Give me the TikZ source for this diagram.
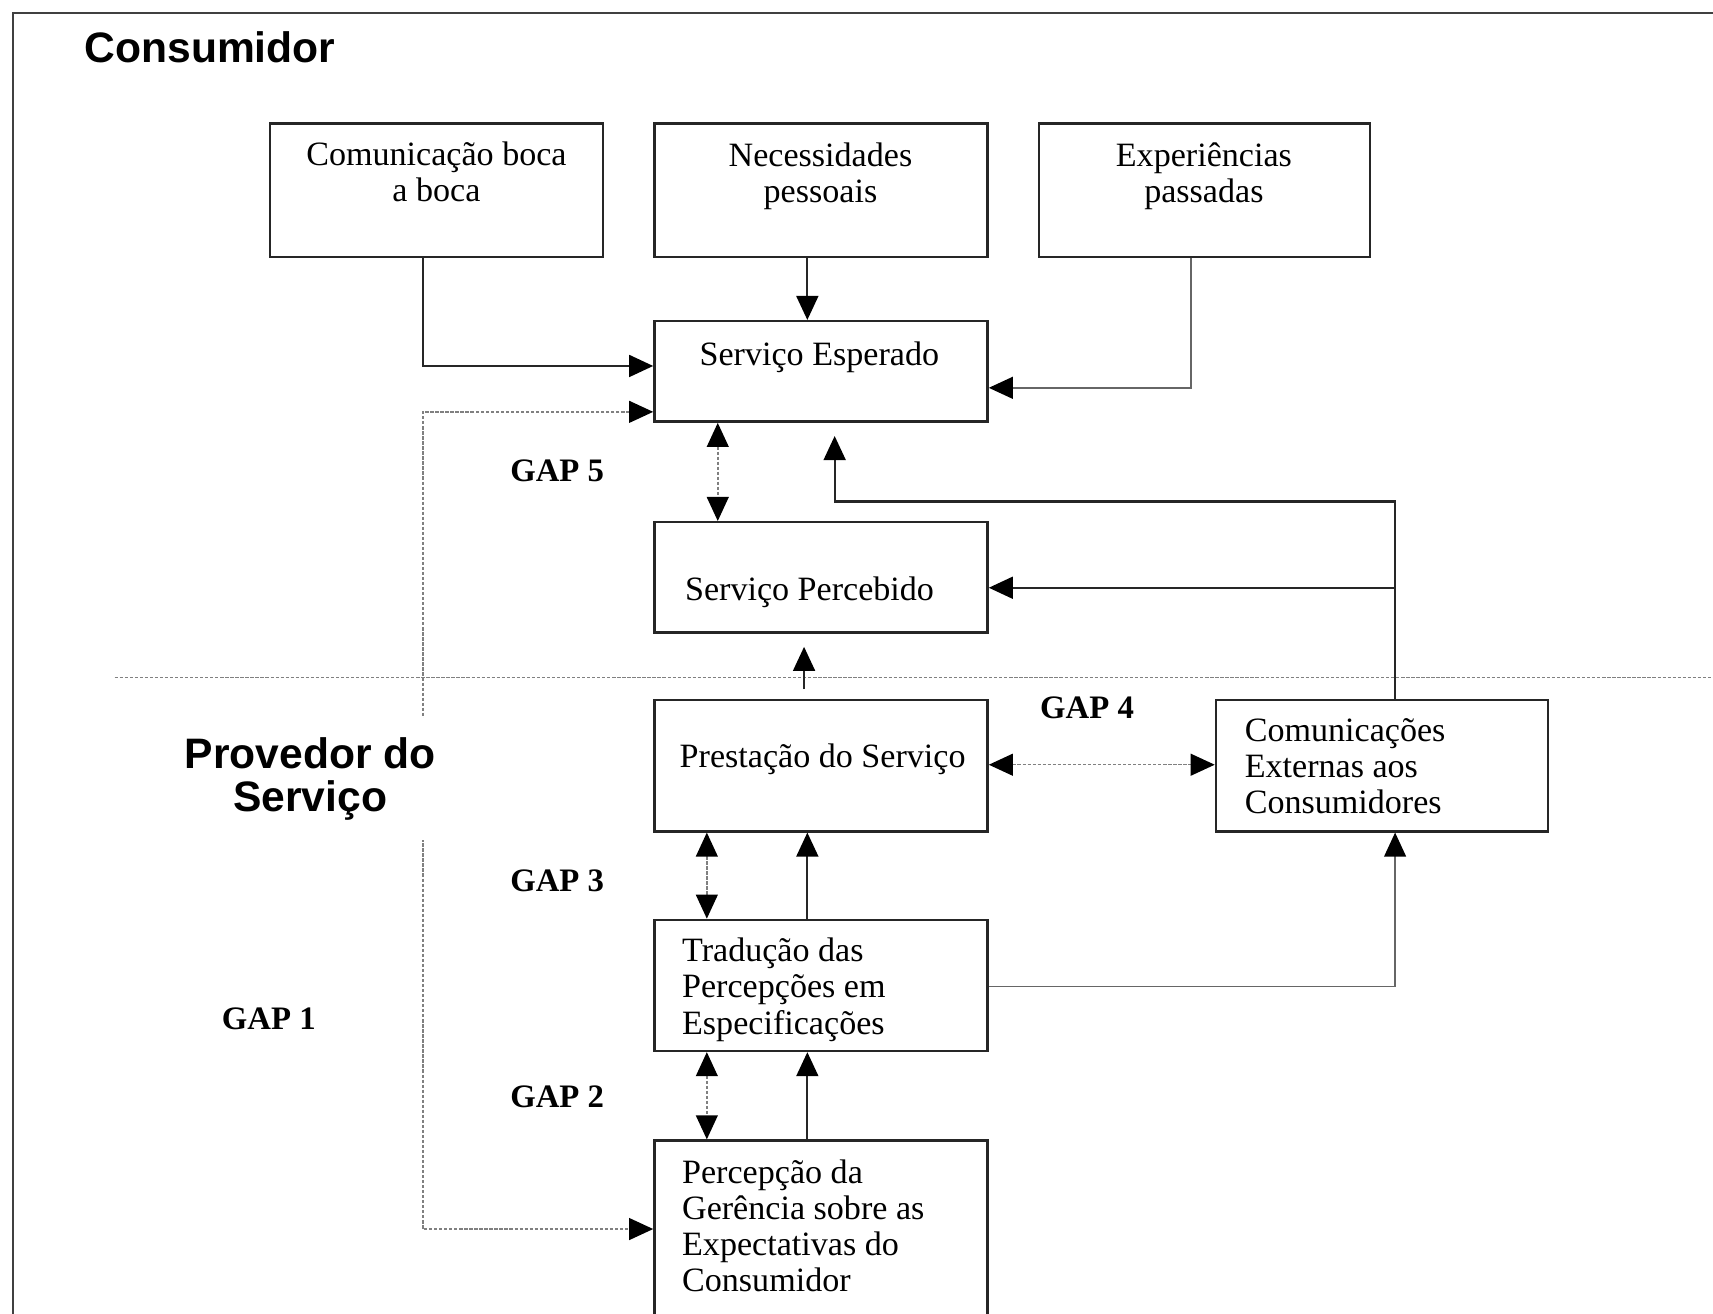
\documentclass[tikz,border=0pt]{standalone}
\usepackage{fontspec}
\setmainfont{Liberation Serif}
\newfontfamily\headfont{Liberation Sans}
\usetikzlibrary{arrows.meta,calc,fit}
\begin{document}
\begin{tikzpicture}[x=0.5pt,y=-0.5pt,
  box/.style={draw=black!85, line width=1.1pt, inner sep=0pt},
  boxtext/.style={font=\fontsize{15.6pt}{16.5pt}\selectfont, inner sep=0pt, text=black},
  gaplabel/.style={font=\fontsize{15pt}{17pt}\selectfont\bfseries, inner sep=0pt},
  head/.style={font=\headfont\bfseries\fontsize{19.5pt}{19.5pt}\selectfont, inner sep=0pt},
  arr/.style={line width=1pt, draw=black!85, -{Triangle[length=11pt,width=10pt,color=black]}},
  thinarr/.style={line width=0.7pt, draw=black!60, -{Triangle[length=11pt,width=10pt,color=black]}},
  dotline/.style={line width=0.7pt, draw=black!50, dash pattern=on 1.5pt off 0.8pt},
  dblarr/.style={dotline, {Triangle[length=11pt,width=10pt,color=black]}-{Triangle[length=11pt,width=10pt,color=black]}},
  frameline/.style={draw=black!75, line width=1.1pt}
]
\useasboundingbox (0,0) rectangle (1568,1202);
\clip (0,0) rectangle (1568,1202);
\fill[white] (0,0) rectangle (1568,1202);

% outer frame
\draw[frameline] (12,12) rectangle (1640,1280);

% separator
\draw[dotline] (105,620) -- (1600,620);

% boxes
\node[box, fit={(247,113) (552,235)}] (A) {};
\node[box, fit={(599,113) (904,235)}] (B) {};
\node[box, fit={(951,113) (1254,235)}] (C) {};
\node[box, fit={(599,294) (904,386)}] (SE) {};
\node[box, fit={(599,478) (904,579)}] (SP) {};
\node[box, fit={(599,641) (904,761)}] (PS) {};
\node[box, fit={(1113,641) (1417,761)}] (CE) {};
\node[box, fit={(599,842) (904,962)}] (T) {};
\node[box, fit={(599,1044) (904,1230)}] (P) {};

% box texts
\node[boxtext, align=center] at (399.5,157) {Comunica\c{c}\~ao boca\\a boca};
\node[boxtext, align=center] at (751,161) {Necessidades\\pessoais};
\node[boxtext, align=center] at (1102,161) {Experi\^encias\\passadas};
\node[boxtext] at (750,327) {Servi\c{c}o Esperado};
\node[boxtext] at (741,542) {Servi\c{c}o Percebido};
\node[boxtext] at (753,695) {Presta\c{c}\~ao do Servi\c{c}o};
\node[boxtext, align=left, anchor=west] at (1139,701) {Comunica\c{c}\~oes\\Externas aos\\Consumidores};
\node[boxtext, align=left, anchor=west] at (624,906) {Tradu\c{c}\~ao das\\Percep\c{c}\~oes em\\Especifica\c{c}\~oes};
\node[boxtext, align=left, anchor=west] at (624,1122) {Percep\c{c}\~ao da\\Ger\^encia sobre as\\Expectativas do\\Consumidor};

% connectors
\draw[arr] ($(A.south)+(-12.5,0)$) |- ($(SE.west)+(0,-5)$);
\draw[arr] ($(B.south)+(-12.5,0)$) -- ($(SE.north)+(-12.5,0)$);
\draw[thinarr] ($(C.south)+(-12.5,0)$) |- ($(SE.east)+(0,15)$);
\draw[dblarr] ($(SE.west)+(0,37)$) -| (387,1125) -- ($(P.west)+(0,-12)$);
\draw[dblarr] ($(SE.south)+(-94.5,0)$) -- ($(SP.north)+(-94.5,0)$);
\draw[arr] ($(CE.north)+(12,0)$) |- ($(SE.south)+(12.5,72)$) -- ($(SE.south)+(12.5,12)$);
\coordinate (br) at ($(SP.east -| CE.north)+(12,9.5)$);
\draw[arr] (br) -- (br -| SP.east);
\draw[arr] ($(PS.north)+(-15.5,-9)$) -- ($(SP.south)+(-15.5,12)$);
\draw[dblarr] ($(PS.east)+(0,-1)$) -- ($(CE.west)+(0,-1)$);
\draw[dblarr] ($(PS.south)+(-104.5,0)$) -- ($(T.north)+(-104.5,0)$);
\draw[arr] ($(T.north)+(-12.5,0)$) -- ($(PS.south)+(-12.5,0)$);
\draw[thinarr] ($(T.east)+(0,1)$) -| ($(CE.south)+(12,0)$);
\draw[dblarr] ($(T.south)+(-104.5,0)$) -- ($(P.north)+(-104.5,0)$);
\draw[arr] ($(P.north)+(-12.5,0)$) -- ($(T.south)+(-12.5,0)$);

% headings
\node[head, anchor=west] (cons) at (77,43) {Consumidor};
\node[head, align=center, fill=white, inner xsep=2pt, inner ysep=9pt] (prov) at (284,713) {Provedor do\\Servi\c{c}o};

% gap labels
\node[gaplabel] (g5) at (510,431) {GAP 5};
\node[gaplabel] (g4) at (995,648) {GAP 4};
\node[gaplabel] (g3) at (510,806) {GAP 3};
\node[gaplabel] (g2) at (510,1004) {GAP 2};
\node[gaplabel] (g1) at (246,933) {GAP 1};
\end{tikzpicture}
\end{document}
